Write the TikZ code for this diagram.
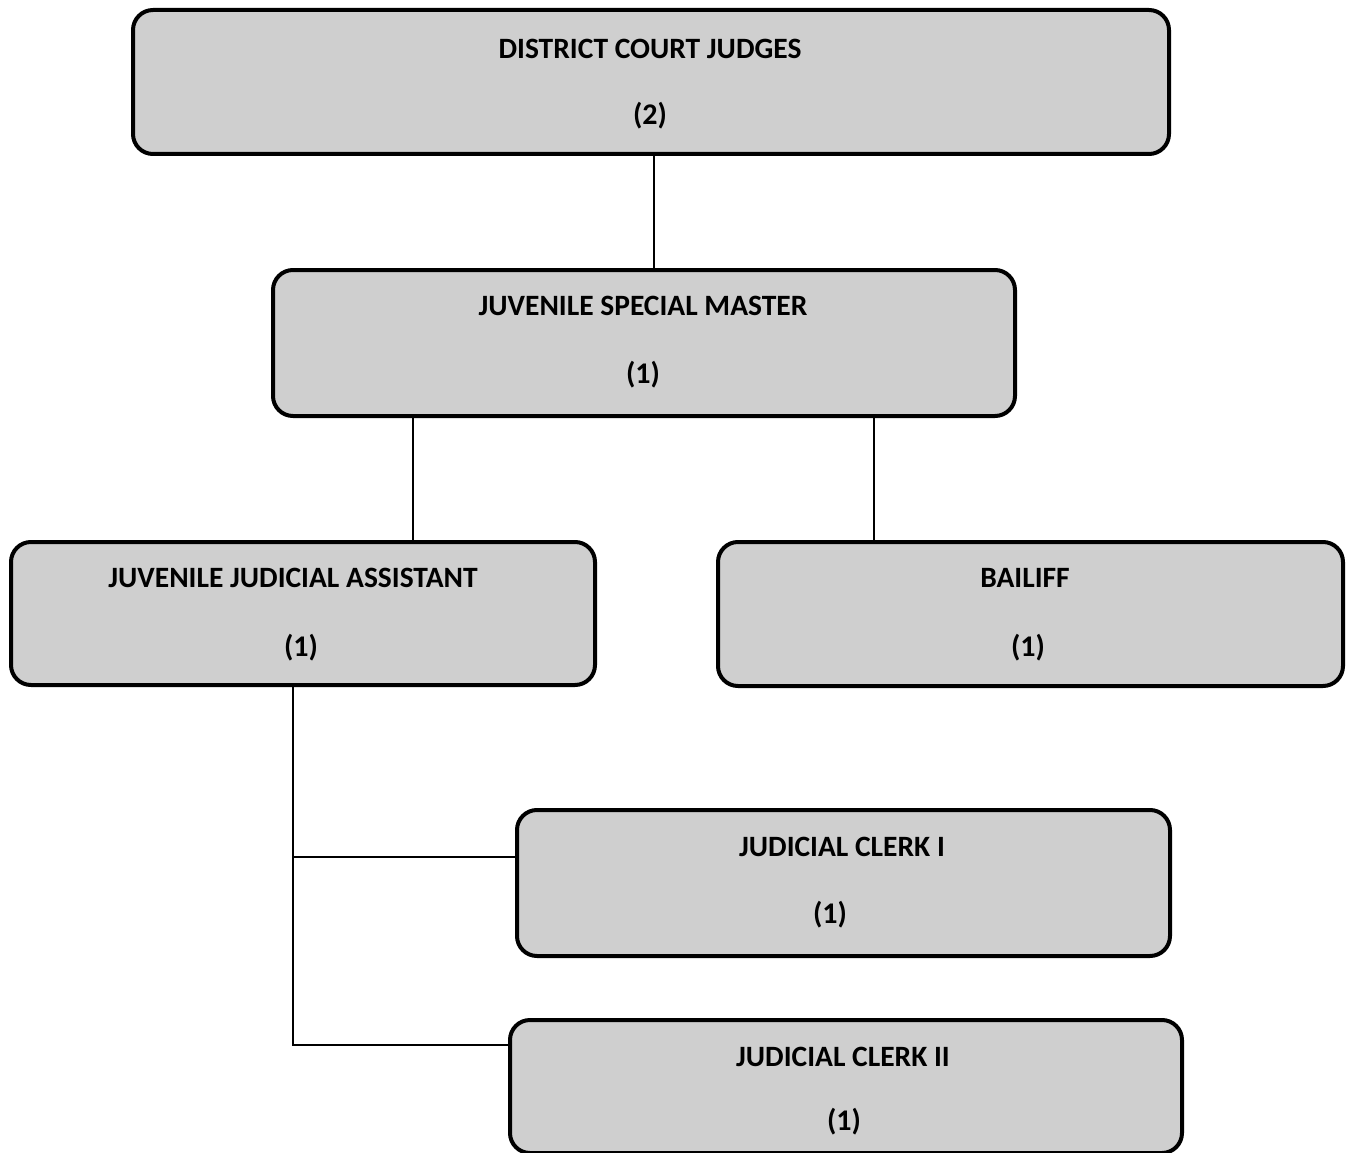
\documentclass[tikz,border=0pt]{standalone}
\usepackage{fontspec}
\setmainfont{Carlito}
\begin{document}
\begin{tikzpicture}[x=1pt,y=-1pt,
  orgbox/.style={draw=black,line width=4pt,rounded corners=20pt,fill=black!19,
    inner sep=0pt,anchor=north west},
  title/.style={font=\fontsize{29.5}{29.5}\selectfont\bfseries,inner sep=0pt},
  count/.style={font=\fontsize{30}{30}\selectfont\bfseries,inner sep=0pt},
  link/.style={line width=2pt}]
\useasboundingbox (0,0) rectangle (1347,1153);

% boxes
\node[orgbox,minimum width=1036pt,minimum height=144pt] (judges) at (131,8) {};
\node[orgbox,minimum width=742pt,minimum height=146pt] (master) at (271,268) {};
\node[orgbox,minimum width=584pt,minimum height=143pt] (assist) at (9,540) {};
\node[orgbox,minimum width=625pt,minimum height=144pt] (bailiff) at (716,540) {};
\node[orgbox,minimum width=653pt,minimum height=146pt] (clerk1) at (515,808) {};
\node[orgbox,minimum width=672pt,minimum height=133pt] (clerk2) at (508,1018) {};

% labels
\node[title] (t1) at (650,49) {DISTRICT COURT JUDGES};
\node[count] (n1) at (650,116) {(2)};
\node[title] (t2) at (643,306) {JUVENILE SPECIAL MASTER};
\node[count] (n2) at (643,375) {(1)};
\node[title] (t3) at (293,578) {JUVENILE JUDICIAL ASSISTANT};
\node[count] (n3) at (301,648) {(1)};
\node[title] (t4) at (1025,578) {BAILIFF};
\node[count] (n4) at (1028,648) {(1)};
\node[title] (t5) at (842,847) {JUDICIAL CLERK I};
\node[count] (n5) at (830,915) {(1)};
\node[title] (t6) at (843,1057) {JUDICIAL CLERK II};
\node[count] (n6) at (844,1122) {(1)};

% connector guides
\coordinate (g1) at (654,0);
\coordinate (g2) at (413,0);
\coordinate (g3) at (874,0);
\coordinate (g4) at (293,0);
\coordinate (h1) at (0,857);
\coordinate (h2) at (0,1045);

% connectors
\draw[link] (judges.south -| g1) -- (master.north -| g1);
\draw[link] (master.south -| g2) -- (assist.north -| g2);
\draw[link] (master.south -| g3) -- (bailiff.north -| g3);
\draw[link] (assist.south -| g4) -- (g4 |- h2) -- (clerk2.west |- h2);
\draw[link] (g4 |- h1) -- (clerk1.west |- h1);
\end{tikzpicture}
\end{document}
